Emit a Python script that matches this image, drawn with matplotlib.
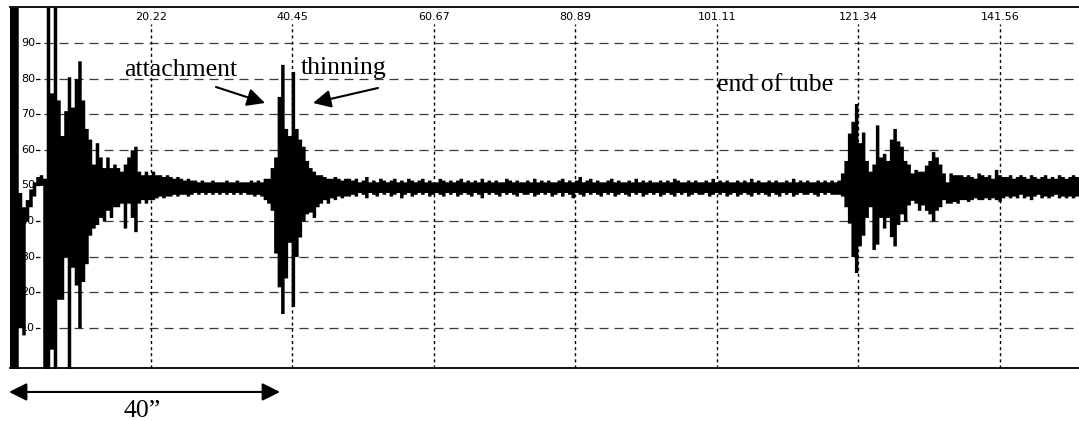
import numpy as np
import matplotlib
matplotlib.use("Agg")
import matplotlib.pyplot as plt
from matplotlib.patches import FancyArrowPatch

plt.rcParams['lines.scale_dashes'] = False

# ---------------- data (signal envelope sampled every 0.5 distance units) ----------------
sample_step = 0.5

upper_start = [100, 100, 100, 48, 44, 46, 49, 51, 52.5, 53,
               52, 100, 76, 100, 74, 64, 71, 80.5, 72, 80,
               85, 74, 66, 63, 56, 62, 58, 55, 58, 55,
               56, 55, 54, 56, 58, 60, 61, 54, 53, 54,
               53, 54, 53, 53, 52.5, 53, 52.5, 52, 52.5, 52,
               51.5, 52, 51.5, 51.5, 51, 51.5, 51, 51, 51.5, 51,
               51, 51, 51.5, 51, 51, 51.5, 51, 51, 51, 51.5,
               51, 51.5, 51, 52, 52, 55, 58, 75, 84, 66,
               64, 82, 66, 63, 61, 57, 55, 54, 53, 53,
               52.5, 52, 52, 52.5, 52, 51.5, 52, 52]
lower_start = [-2, -2, -2, 10, 8, 40, 44, 47, 50, 50,
               -2, -2, 4, -2, 18, 18, 30, -2, 27, 22,
               10, 23, 28, 36, 38, 39, 41, 40, 43, 41,
               44, 44, 45, 38, 45, 41, 37, 45, 46, 45,
               46, 46, 46.5, 47, 46.5, 47, 47, 47.5, 47, 47.5,
               47.5, 47, 47.5, 48, 47.5, 48, 47.5, 48, 47.5, 48,
               47.5, 48, 47.5, 48, 47.5, 48, 47.5, 48, 47.5, 47.5,
               47, 47.5, 47, 46, 45, 43, 31, 21.5, 14, 24,
               34, 16, 30, 35.5, 40, 42, 42.5, 41, 44, 45,
               46, 45, 46.5, 46, 47, 46.5, 47, 47]

upper_mid = [51.5, 52, 51, 51.5, 52.5, 51, 51.5, 51, 52, 51.5,
             51, 51.5, 52, 51, 51.5, 51, 52, 51.5, 51, 51.5,
             52, 51, 51.5, 51, 51, 52, 51.5, 51, 51.5, 51,
             51.5, 52, 51, 51.5, 51, 51.5, 51, 52, 51, 51.5,
             51, 51.5, 51, 51, 52, 51.5, 51, 51.5, 51, 51,
             51.5, 51, 52, 51, 51.5, 51, 51.5, 51, 51, 51.5,
             52, 51, 51.5, 51, 51.5, 52.5, 51, 51.5, 52, 51,
             51.5, 51, 51, 51.5, 52, 51, 51.5, 51, 51, 51.5,
             51, 52, 51, 51.5, 51, 51.5, 51, 51, 51.5, 51,
             51.5, 51, 52, 51.5, 51, 51, 51.5, 51, 51.5, 51,
             51, 51.5, 51, 52, 51, 51.5, 51, 51.5, 51, 51,
             51.5, 51, 51.5, 51, 52, 51, 51.5, 51, 51, 51.5,
             51, 51.5, 51, 51, 51.5, 51, 52, 51, 51.5, 51,
             51.5, 51, 51, 51.5, 51, 51.5, 51, 51.5, 51]
lower_mid = [47.5, 47, 48, 47.5, 46.5, 48, 47.5, 47, 48, 47.5,
             48, 47, 47.5, 48, 46.5, 47.5, 48, 47, 47.5, 48,
             47.5, 48, 47, 47.5, 48, 47.5, 47, 48, 47.5, 48,
             47, 47.5, 48, 47.5, 47, 48, 47.5, 46.5, 48, 47.5,
             48, 47.5, 47, 48, 47.5, 48, 47.5, 47, 48, 47.5,
             47.5, 48, 47, 47.5, 48, 47.5, 48, 47, 47.5, 48,
             47, 48, 47.5, 46.5, 48, 47.5, 47, 48, 47.5, 48,
             47.5, 47, 48, 47.5, 48, 47, 47.5, 48, 47.5, 47,
             48, 47.5, 48, 47, 47.5, 48, 47.5, 48, 47, 47.5,
             48, 47.5, 47, 48, 47.5, 48, 47, 47.5, 48, 47.5,
             47.5, 48, 47, 47.5, 48, 47.5, 48, 47, 47.5, 48,
             47, 47.5, 48, 47.5, 47, 48, 47.5, 48, 47.5, 47,
             48, 47.5, 47, 48, 47.5, 48, 47, 47.5, 48, 47.5,
             47.5, 48, 47.5, 47, 48, 47.5, 48, 47.5, 47.5]

upper_end_burst = [51.5, 53.5, 57, 64.7, 68, 73, 62, 65, 57, 54,
                   56, 67, 58, 59, 57, 63, 66, 62.5, 61, 57,
                   56, 53.5, 54.5, 54, 54, 55.7, 57, 59.5, 58, 56,
                   53.5, 51, 53.5, 53, 53, 53, 52.5, 53, 52.5, 52,
                   53.5, 53, 52.5, 53, 52, 54.5, 53, 52.5]
lower_end_burst = [47.5, 47, 44, 39.4, 30, 25.5, 33, 36, 41, 44,
                   32, 33.5, 41, 38, 41, 35.6, 33, 39, 42, 40,
                   44.5, 45.8, 45, 43, 44.5, 43, 42, 40, 43, 44,
                   46, 45, 45, 45.5, 45, 46, 46, 45.5, 46, 46.5,
                   46, 46, 46.5, 46, 46.5, 46, 45.5, 46.5]

upper_tail = [52.5, 53, 52, 52.5, 53, 52.5, 52, 53, 52.5, 52, 52.5,
              53, 52, 52.5, 52, 53, 52.5, 52, 52.5, 53, 52.5, 52]
lower_tail = [47, 46.5, 47, 46.5, 47.5, 46.5, 47, 46, 47, 47.5, 46.5,
              47, 46.5, 47, 47.5, 46.5, 47, 46.5, 47, 46.5, 47, 47]

x_tick_values = [20.2225, 40.445, 60.6675, 80.89, 101.1125, 121.335, 141.5575]
x_tick_labels = ["20.22", "40.45", "60.67", "80.89", "101.11", "121.34", "141.56"]
y_tick_values = [10, 20, 30, 40, 50, 60, 70, 80, 90]
y_tick_labels = ["10", "20", "30", "40", "50", "60", "70", "80", "90"]

upper = np.array(upper_start + upper_mid + upper_end_burst + upper_tail, dtype=float)
lower = np.array(lower_start + lower_mid + lower_end_burst + lower_tail, dtype=float)
x = np.arange(len(upper)) * sample_step

# ---------------- figure ----------------
W, H = 1079, 421
fig = plt.figure(figsize=(W / 100, H / 100), dpi=100)
ax = fig.add_axes([9.5 / W, (H - 368) / H, (W - 9.5) / W, (368 - 7.4) / H])
ax.set_xlim(0, 152.85)
ax.set_ylim(-1.3, 100)
ax.set_xticks([])
ax.set_yticks([])
for s in ['left', 'right']:
    ax.spines[s].set_visible(False)
for s in ['top', 'bottom']:
    ax.spines[s].set_linewidth(1.3)
    ax.spines[s].set_color('black')

# grid
ax.hlines(y_tick_values, 4.9, 152.85, colors='#3a3a3a', linewidth=0.9,
          linestyles=[(0, (6.5, 4.3))], zorder=1)
ax.hlines(y_tick_values, 3.64, 4.36, colors='black', linewidth=0.9, zorder=1)
ax.vlines(x_tick_values, -1.3, 95.3, colors='black', linewidth=1.0,
          linestyles=[(0, (2.2, 2.2))], zorder=1)

# tick labels (drawn inside the plot)
for v, lab in zip(y_tick_values, y_tick_labels):
    ax.text(3.64, v, lab, ha='right', va='center', fontsize=8,
            family='DejaVu Sans', color='black', zorder=2,
            bbox=dict(facecolor='white', edgecolor='none', pad=0.5))
for v, lab in zip(x_tick_values, x_tick_labels):
    ax.text(v, 97.2, lab, ha='center', va='center', fontsize=8,
            family='DejaVu Sans', color='black', zorder=2,
            bbox=dict(facecolor='white', edgecolor='none', pad=0.5))

# signal
ax.fill_between(x, lower, upper, step='mid', color='black', linewidth=0, zorder=3)

# annotations
serif = 'Liberation Serif'
ax.text(16.36, 80.7, "attachment", fontsize=18.5, family=serif, va='baseline', ha='left', zorder=4)
ax.text(41.62, 81.3, "thinning", fontsize=18.5, family=serif, va='baseline', ha='left', zorder=4)
ax.text(101.1, 76.6, "end of tube", fontsize=18.5, family=serif, va='baseline', ha='left', zorder=4)

def arrow(p0, p1, style='-|>'):
    a = FancyArrowPatch(p0, p1, arrowstyle=style + ',head_length=0.6,head_width=0.3',
                        mutation_scale=18, color='black', linewidth=1.5,
                        shrinkA=0, shrinkB=0, zorder=5, clip_on=False)
    ax.add_patch(a)

arrow((29.51, 77.64), (36.52, 73.15))
arrow((52.66, 77.36), (43.38, 73.15))
arrow((-0.07, -8.03), (38.66, -8.03), style='<|-|>')
ax.text(16.36, -15.06, "40\u201d", fontsize=18.5, family=serif, va='baseline', ha='left',
        zorder=4, clip_on=False)

fig.savefig('out.png', dpi=100)
